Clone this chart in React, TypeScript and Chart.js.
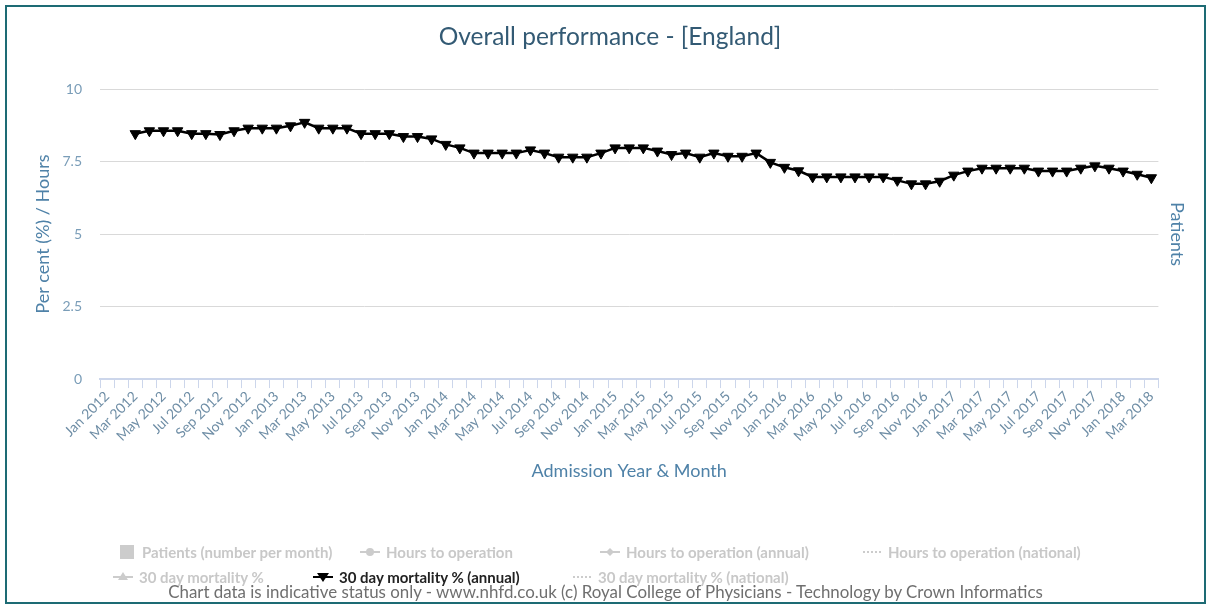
import React, { useEffect, useRef } from 'react';
import { Chart, registerables } from 'chart.js';

Chart.register(...registerables);

const categories: string[] = [
  'Jan 2012', 'Feb 2012', 'Mar 2012', 'Apr 2012', 'May 2012', 'Jun 2012', 'Jul 2012', 'Aug 2012', 'Sep 2012', 'Oct 2012', 'Nov 2012', 'Dec 2012',
  'Jan 2013', 'Feb 2013', 'Mar 2013', 'Apr 2013', 'May 2013', 'Jun 2013', 'Jul 2013', 'Aug 2013', 'Sep 2013', 'Oct 2013', 'Nov 2013', 'Dec 2013',
  'Jan 2014', 'Feb 2014', 'Mar 2014', 'Apr 2014', 'May 2014', 'Jun 2014', 'Jul 2014', 'Aug 2014', 'Sep 2014', 'Oct 2014', 'Nov 2014', 'Dec 2014',
  'Jan 2015', 'Feb 2015', 'Mar 2015', 'Apr 2015', 'May 2015', 'Jun 2015', 'Jul 2015', 'Aug 2015', 'Sep 2015', 'Oct 2015', 'Nov 2015', 'Dec 2015',
  'Jan 2016', 'Feb 2016', 'Mar 2016', 'Apr 2016', 'May 2016', 'Jun 2016', 'Jul 2016', 'Aug 2016', 'Sep 2016', 'Oct 2016', 'Nov 2016', 'Dec 2016',
  'Jan 2017', 'Feb 2017', 'Mar 2017', 'Apr 2017', 'May 2017', 'Jun 2017', 'Jul 2017', 'Aug 2017', 'Sep 2017', 'Oct 2017', 'Nov 2017', 'Dec 2017',
  'Jan 2018', 'Feb 2018', 'Mar 2018',
];

// 30 day mortality % (annual) — one value per month
const mortalityAnnual: (number | null)[] = [
  null, null, 8.46, 8.56, 8.56, 8.56, 8.46, 8.46, 8.43, 8.56, 8.65, 8.65,
  8.65, 8.73, 8.85, 8.65, 8.65, 8.65, 8.46, 8.46, 8.46, 8.36, 8.36, 8.28,
  8.09, 7.97, 7.79, 7.79, 7.79, 7.79, 7.9, 7.79, 7.65, 7.65, 7.65, 7.79,
  7.97, 7.97, 7.97, 7.86, 7.74, 7.79, 7.65, 7.79, 7.68, 7.68, 7.79, 7.47,
  7.3, 7.18, 6.97, 6.97, 6.97, 6.97, 6.97, 6.97, 6.85, 6.73, 6.73, 6.82,
  7.03, 7.17, 7.27, 7.27, 7.27, 7.27, 7.17, 7.17, 7.17, 7.27, 7.35, 7.27,
  7.17, 7.06, 6.94,
];

const yTickValues: number[] = [0, 2.5, 5, 7.5, 10];

const chartTitle = 'Overall performance - [England]';
const xAxisTitle = 'Admission Year & Month';
const yAxisTitle = 'Per cent (%) / Hours';
const y2AxisTitle = 'Patients';
const footerText =
  'Chart data is indicative status only - www.nhfd.co.uk (c) Royal College of Physicians - Technology by Crown Informatics';

type LegendItem = { label: string; symbol: 'square' | 'circle' | 'diamond' | 'dots' | 'triUp' | 'triDown'; active: boolean; left: number; top: number };

const legendItems: LegendItem[] = [
  { label: 'Patients (number per month)', symbol: 'square', active: false, left: 120, top: 541 },
  { label: 'Hours to operation', symbol: 'circle', active: false, left: 360, top: 541 },
  { label: 'Hours to operation (annual)', symbol: 'diamond', active: false, left: 600, top: 541 },
  { label: 'Hours to operation (national)', symbol: 'dots', active: false, left: 862, top: 541 },
  { label: '30 day mortality %', symbol: 'triUp', active: false, left: 113, top: 566 },
  { label: '30 day mortality % (annual)', symbol: 'triDown', active: true, left: 313, top: 566 },
  { label: '30 day mortality % (national)', symbol: 'dots', active: false, left: 572, top: 566 },
];

const FONT = 'Lato, "Open Sans", sans-serif';

function Symbol({ kind, color }: { kind: LegendItem['symbol']; color: string }) {
  if (kind === 'square') {
    return (
      <svg width={16} height={14} style={{ display: 'block' }}>
        <rect x={0} y={0} width={14} height={14} fill={color} />
      </svg>
    );
  }
  return (
    <svg width={20} height={14} style={{ display: 'block' }}>
      {kind === 'dots' ? (
        <line x1={1} y1={7} x2={19} y2={7} stroke={color} strokeWidth={2} strokeDasharray="2,2" />
      ) : (
        <line x1={0} y1={7} x2={20} y2={7} stroke={color} strokeWidth={2} />
      )}
      {kind === 'circle' && <circle cx={10} cy={7} r={4} fill={color} />}
      {kind === 'diamond' && <polygon points="10,3 14,7 10,11 6,7" fill={color} />}
      {kind === 'triUp' && <polygon points="10,2 15,10 5,10" fill={color} />}
      {kind === 'triDown' && <polygon points="4,3 16,3 10,12" fill={color} />}
    </svg>
  );
}

export default function App() {
  const canvasRef = useRef<HTMLCanvasElement | null>(null);

  useEffect(() => {
    if (!canvasRef.current) return;
    const chart = new Chart(canvasRef.current, {
      type: 'line',
      data: {
        labels: categories,
        datasets: [
          {
            label: '30 day mortality % (annual)',
            data: mortalityAnnual,
            borderColor: '#000000',
            backgroundColor: '#000000',
            borderWidth: 2.5,
            pointStyle: 'triangle',
            rotation: 180,
            pointRadius: 6,
            pointBorderWidth: 1,
            pointBorderColor: '#000000',
            pointBackgroundColor: '#000000',
            yAxisID: 'y',
            tension: 0,
          },
        ],
      },
      options: {
        animation: false,
        responsive: false,
        layout: { padding: { left: 28, right: 19, top: 0, bottom: 121 } },
        plugins: {
          legend: { display: false },
          tooltip: { enabled: false },
          title: {
            display: true,
            text: chartTitle,
            color: '#335a74',
            font: { family: FONT, size: 24.5, weight: 'normal', lineHeight: 1.2 },
            padding: { top: 22.3, bottom: 37.3 },
          },
        },
        scales: {
          x: {
            offset: true,
            afterFit: (scale: any) => {
              scale.paddingLeft = 0;
              scale.paddingRight = 0;
            },
            grid: {
              offset: true,
              drawOnChartArea: false,
              drawTicks: true,
              tickLength: 9,
              color: '#ccd6eb',
              lineWidth: 1,
            },
            border: { display: true, color: '#ccd6eb', width: 2 },
            ticks: {
              autoSkip: false,
              maxRotation: 45,
              minRotation: 45,
              padding: 0,
              color: '#6f8ea6',
              font: { family: FONT, size: 14 },
              callback: (_v: any, i: number) => (i % 2 === 0 ? categories[i] : ''),
            },
            title: {
              display: true,
              text: xAxisTitle,
              color: '#4f82a8',
              font: { family: FONT, size: 18 },
              padding: { top: 16, bottom: 4 },
            },
          },
          y: {
            position: 'left',
            min: 0,
            max: 10,
            afterBuildTicks: (scale: any) => {
              scale.ticks = yTickValues.map((v) => ({ value: v }));
            },
            afterFit: (scale: any) => {
              scale.width = 72;
            },
            grid: { color: '#d9d9d9', drawTicks: false, lineWidth: 1 },
            border: { display: false },
            ticks: {
              padding: 18,
              color: '#7a9db8',
              font: { family: FONT, size: 14 },
              callback: (v: any) => String(v),
            },
            title: {
              display: true,
              text: yAxisTitle,
              color: '#4f82a8',
              font: { family: FONT, size: 18 },
              padding: { top: 4, bottom: 10 },
            },
          },
          y2: {
            position: 'right',
            display: true,
            min: 0,
            max: 1,
            grid: { display: false, drawTicks: false },
            border: { display: false },
            ticks: { display: false },
            title: {
              display: true,
              text: y2AxisTitle,
              color: '#4f82a8',
              font: { family: FONT, size: 18 },
              padding: { top: 4, bottom: 8 },
            },
          },
        },
      },
    });
    return () => chart.destroy();
  }, []);

  return (
    <div style={{ position: 'fixed', left: 0, top: 0, width: 1211, height: 607, background: '#ffffff', overflow: 'hidden' }}>
      <canvas ref={canvasRef} width={1211} height={607} style={{ position: 'absolute', left: 0, top: 0, display: 'block' }} />
      <div
        style={{
          position: 'absolute',
          left: 5,
          top: 5,
          width: 1201,
          height: 599,
          border: '2px solid #1d6b74',
          boxSizing: 'border-box',
          pointerEvents: 'none',
        }}
      />
      {legendItems.map((it) => {
        const color = it.active ? '#000000' : '#cccccc';
        return (
          <div
            key={it.label}
            style={{
              position: 'absolute',
              left: it.left,
              top: it.top,
              height: 22,
              display: 'flex',
              alignItems: 'center',
              gap: 6,
              fontFamily: FONT,
              fontWeight: 700,
              fontSize: 15,
              color: it.active ? '#222222' : '#c8c8c8',
              whiteSpace: 'nowrap',
            }}
          >
            <Symbol kind={it.symbol} color={color} />
            <span>{it.label}</span>
          </div>
        );
      })}
      <div
        style={{
          position: 'absolute',
          left: 0,
          top: 582,
          width: 1211,
          lineHeight: '20px',
          textAlign: 'center',
          fontFamily: FONT,
          fontSize: 16.9,
          color: '#6f6f6f',
          whiteSpace: 'nowrap',
        }}
      >
        {footerText}
      </div>
    </div>
  );
}
